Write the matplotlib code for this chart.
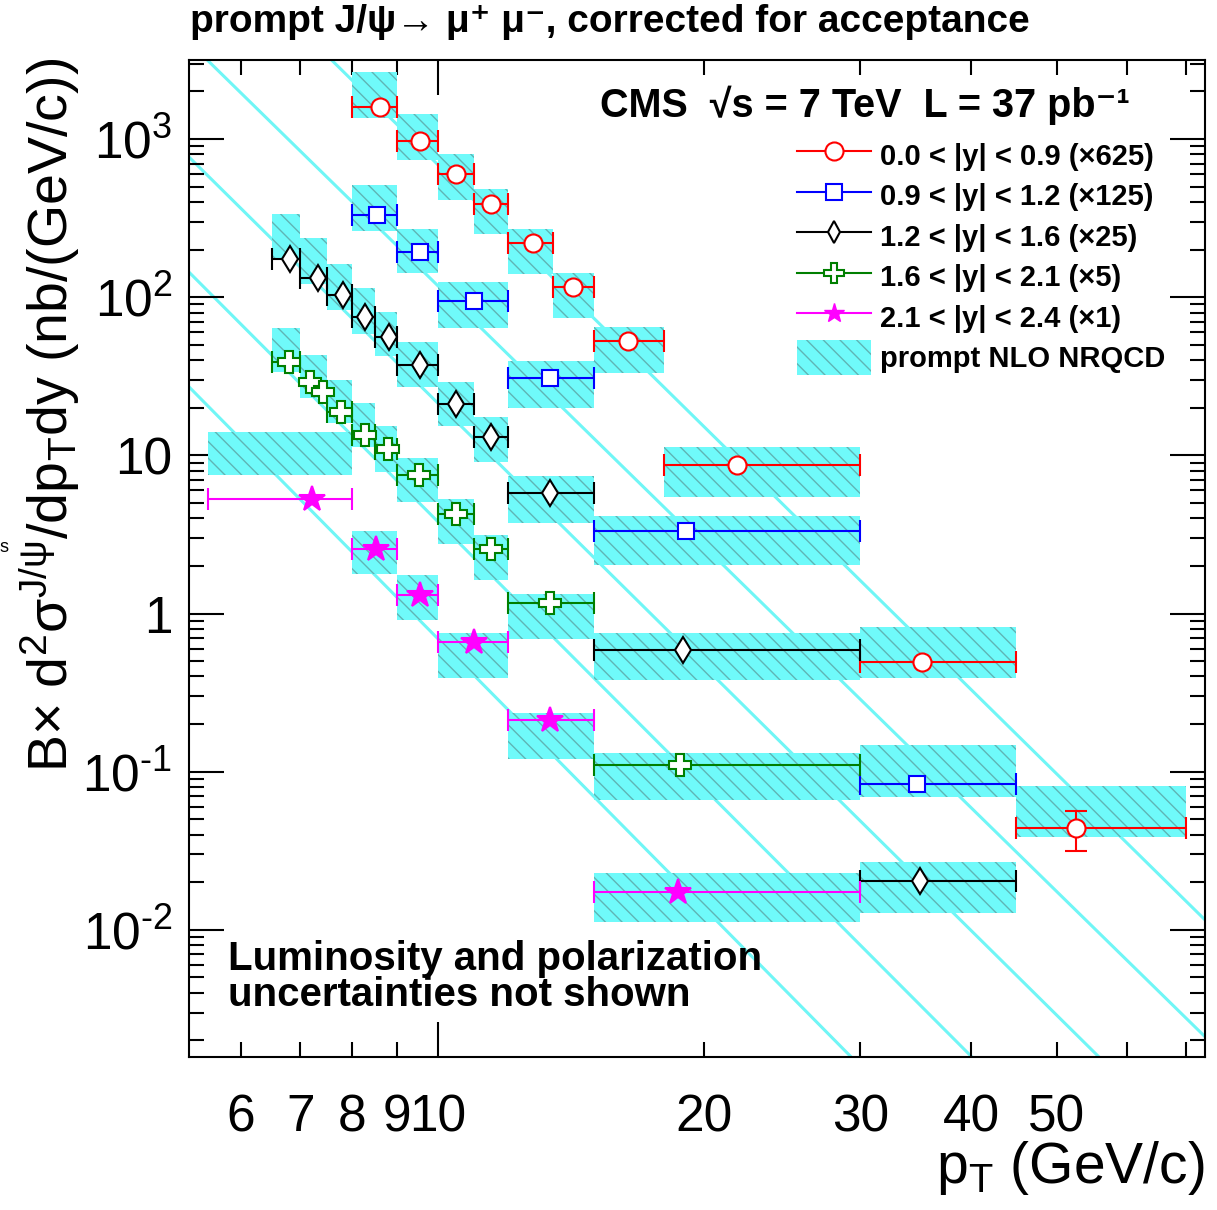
import matplotlib
matplotlib.use('Agg')
from matplotlib import pyplot as plt
from matplotlib.ticker import FixedLocator, FixedFormatter, NullFormatter
from matplotlib.lines import Line2D
from matplotlib.patches import Patch

# ---- data (pT in GeV/c, cross section in nb/(GeV/c)) ----
red_xlo = [8, 9, 10, 11, 12, 13.5, 15, 18, 30, 45]
red_xhi = [9, 10, 11, 12, 13.5, 15, 18, 30, 45, 70]
red_x = [8.6, 9.54, 10.5, 11.5, 12.8, 14.2, 16.4, 21.8, 35.2, 52.6]
red_y = [1592, 971, 601, 388, 220, 116, 52.9, 8.7, 0.494, 0.0441]
red_yerr_lo = [0, 0, 0, 0, 0, 0, 0, 0, 0, 0.0125]
red_yerr_hi = [0, 0, 0, 0, 0, 0, 0, 0, 0, 0.0124]
red_band_lo = [1358, 737, 411, 251, 140, 74, 33.2, 5.46, 0.392, 0.0387]
red_band_hi = [2652, 1439, 804, 483, 270, 142, 64.9, 11.3, 0.822, 0.0813]

blue_xlo = [8, 9, 10, 12, 15, 30]
blue_xhi = [9, 10, 12, 15, 30, 45]
blue_x = [8.55, 9.54, 10.98, 13.4, 19.05, 34.8]
blue_y = [331, 193, 94.6, 30.9, 3.33, 0.0838]
blue_band_lo = [262, 142, 63.8, 19.9, 2.03, 0.0693]
blue_band_hi = [512, 270, 125, 39.5, 4.14, 0.1476]

black_xlo = [6.5, 7, 7.5, 8, 8.5, 9, 10, 11, 12, 15, 30]
black_xhi = [7, 7.5, 8, 8.5, 9, 10, 11, 12, 15, 30, 45]
black_x = [6.81, 7.32, 7.81, 8.29, 8.81, 9.54, 10.5, 11.5, 13.4, 18.9, 35.0]
black_y = [174, 132, 103, 75, 56, 37.3, 21.1, 13.1, 5.78, 0.589, 0.0204]
black_band_lo = [172, 121, 83, 58.5, 42.5, 27.0, 15.3, 9.08, 3.74, 0.380, 0.0128]
black_band_hi = [336, 237, 162, 114, 80.5, 52.1, 29.1, 17.5, 7.41, 0.753, 0.0269]

green_xlo = [6.5, 7.17, 7.42, 7.5, 8, 8.5, 9, 10, 11, 12, 15]
green_xhi = [7, 7.17, 7.42, 8, 8.5, 9, 10, 11, 12, 15, 30]
green_x = [6.79, 7.17, 7.42, 7.77, 8.27, 8.78, 9.52, 10.5, 11.5, 13.4, 18.8]
green_y = [38.9, 29.1, 25.2, 18.8, 13.4, 11.0, 7.51, 4.26, 2.56, 1.17, 0.110]
green_band_xlo = [6.5, 7, 7.5, 8, 8.5, 9, 10, 11, 12, 15]
green_band_xhi = [7, 7.5, 8, 8.5, 9, 10, 11, 12, 15, 30]
green_band_lo = [33.7, 23.1, 16.0, 11.3, 7.86, 5.07, 2.75, 1.63, 0.690, 0.0663]
green_band_hi = [63.9, 43.2, 30.0, 21.4, 15.3, 9.64, 5.30, 3.14, 1.33, 0.1315]

mag_xlo = [5.5, 8, 9, 10, 12, 15]
mag_xhi = [8, 9, 10, 12, 15, 30]
mag_x = [7.21, 8.53, 9.54, 10.98, 13.4, 18.7]
mag_y = [5.30, 2.56, 1.31, 0.661, 0.212, 0.0174]
mag_band_lo = [7.52, 1.78, 0.910, 0.392, 0.120, 0.01125]
mag_band_hi = [14.1, 3.33, 1.75, 0.753, 0.2355, 0.0229]

# the long cyan diagonal lines (end points read at the frame)
diag_x = [[5.24, 73.5], [7.59, 73.5], [5.24, 55.8], [5.24, 40.1], [5.24, 29.3]]
diag_y = [[4100, 0.00211], [3160, 0.01156], [769, 0.00157], [144, 0.00157], [27.1, 0.00157]]

labels = ['0.0 < |y| < 0.9 (\u00d7625)', '0.9 < |y| < 1.2 (\u00d7125)',
          '1.2 < |y| < 1.6 (\u00d725)', '1.6 < |y| < 2.1 (\u00d75)',
          '2.1 < |y| < 2.4 (\u00d71)', 'prompt NLO NRQCD']

plt.rcParams['font.family'] = ['Liberation Sans', 'DejaVu Sans']
plt.rcParams['mathtext.fontset'] = 'custom'
plt.rcParams['mathtext.rm'] = 'Liberation Sans'
plt.rcParams['mathtext.it'] = 'Liberation Sans:italic'
plt.rcParams['mathtext.bf'] = 'Liberation Sans:bold'
plt.rcParams['hatch.linewidth'] = 1.0

cyan = '#6ffafa'
hatchc = '#5fb4b4'

fig = plt.figure(figsize=(12.17, 12.10), dpi=100)
ax = fig.add_axes([189/1217, 1-1057/1210, (1205-189)/1217, (1057-60)/1210])
ax.set_xscale('log')
ax.set_yscale('log')

for lx, ly in zip(diag_x, diag_y):
    ax.plot(lx, ly, color='#70f6f6', lw=2.2, zorder=1)

def bands(xlo, xhi, lo, hi):
    for a, b, l, h in zip(xlo, xhi, lo, hi):
        ax.fill_between([a, b], [l, l], [h, h], facecolor=cyan, edgecolor=hatchc,
                        hatch='\\\\', linewidth=0, zorder=2)

bands(red_xlo, red_xhi, red_band_lo, red_band_hi)
bands(blue_xlo, blue_xhi, blue_band_lo, blue_band_hi)
bands(black_xlo, black_xhi, black_band_lo, black_band_hi)
bands(green_band_xlo, green_band_xhi, green_band_lo, green_band_hi)
bands(mag_xlo, mag_xhi, mag_band_lo, mag_band_hi)

def points(x, y, xlo, xhi, color, marker, ms, mfc='white', yerr=None):
    xerr = [[xi - a for xi, a in zip(x, xlo)], [b - xi for xi, b in zip(x, xhi)]]
    ax.errorbar(x, y, xerr=xerr, yerr=yerr, fmt=marker, color=color, mec=color,
                mfc=mfc, ms=ms, mew=1.5, elinewidth=1.5, capsize=8, capthick=1.5,
                zorder=3)

points(red_x, red_y, red_xlo, red_xhi, '#ff0000', 'o', 13, yerr=[red_yerr_lo, red_yerr_hi])
points(blue_x, blue_y, blue_xlo, blue_xhi, '#0000ff', 's', 12)
points(black_x, black_y, black_xlo, black_xhi, 'black', 'd', 13)
points(green_x, green_y, green_xlo, green_xhi, '#007f00', 'P', 16)
points(mag_x, mag_y, mag_xlo, mag_xhi, '#ff00ff', '*', 19, mfc='#ff00ff')

ax.set_xlim(5.24, 73.5)
ax.set_ylim(1.57e-3, 3160)

# ticks
ax.xaxis.set_major_locator(FixedLocator([10]))
ax.xaxis.set_major_formatter(FixedFormatter(['10']))
ax.xaxis.set_minor_locator(FixedLocator([6, 7, 8, 9, 20, 30, 40, 50, 60, 70]))
ax.xaxis.set_minor_formatter(FixedFormatter(['6', '7', '8', '9', '20', '30', '40', '50', '', '']))
yt = [1e-2, 1e-1, 1, 10, 100, 1000]
ax.yaxis.set_major_locator(FixedLocator(yt))
ax.yaxis.set_major_formatter(FixedFormatter([r'$\mathregular{10^{\text{-}2}}$', r'$\mathregular{10^{\text{-}1}}$',
                                              '1', '10', r'$\mathregular{10^{2}}$',
                                              r'$\mathregular{10^{3}}$']))
ymin = [m * 10.0**e for e in range(-3, 4) for m in range(2, 10)]
ax.yaxis.set_minor_locator(FixedLocator(ymin))
ax.yaxis.set_minor_formatter(NullFormatter())
ax.tick_params(which='both', direction='in', top=True, right=True, width=1.5)
ax.tick_params(which='major', length=25)
ax.tick_params(which='minor', length=11)
ax.tick_params(axis='x', which='both', labelsize=37, pad=26)
ax.tick_params(axis='y', which='both', labelsize=37, pad=12)
for s in ax.spines.values():
    s.set_linewidth(1.5)

# legend
handles = [Line2D([], [], color='#ff0000', marker='o', mfc='white', ms=13, mew=1.5, lw=1.5),
           Line2D([], [], color='#0000ff', marker='s', mfc='white', ms=12, mew=1.5, lw=1.5),
           Line2D([], [], color='black', marker='d', mfc='white', ms=11, mew=1.5, lw=1.5),
           Line2D([], [], color='#007f00', marker='P', mfc='white', ms=14, mew=1.5, lw=1.5),
           Line2D([], [], color='#ff00ff', marker='*', ms=15, lw=1.5),
           Patch(facecolor=cyan, edgecolor=hatchc, hatch='\\\\', linewidth=0)]
ax.legend(handles, labels, loc='upper left', bbox_to_anchor=((797-189)/1016, (1057-138)/997),
          frameon=False, borderpad=0, borderaxespad=0, handlelength=2.55, handleheight=1.45,
          handletextpad=0.3, labelspacing=0.2, prop={'size': 21, 'weight': 'bold'})

# texts
fig.text(190/1217, 1-22/1210, 'prompt J/\u03c8\u2192 \u03bc\u207a \u03bc\u207b, corrected for acceptance',
         ha='left', va='center', fontsize=28, fontweight='bold')
fig.text(1130/1217, 1-105/1210, 'CMS  \u221as = 7 TeV  L = 37 pb\u207b\u00b9',
         ha='right', va='center', fontsize=28.5, fontweight='bold')
fig.text(228/1217, 1-977/1210, 'Luminosity and polarization\nuncertainties not shown',
         ha='left', va='center', fontsize=29, fontweight='bold', linespacing=0.92)
fig.text(1205/1217, 1-1168/1210, r'$\mathregular{p_{T}}$ (GeV/c)',
         ha='right', va='center', fontsize=41)
fig.text(50/1217, 1-58/1210,
         r'B$\mathregular{\times}$ d$\mathregular{^{2}\sigma^{J/\psi}}$/dp$\mathregular{_{T}}$dy (nb/(GeV/c))',
         rotation=90, ha='center', va='top', fontsize=40)
fig.text(0, 1-548/1210, 's', ha='left', va='center', fontsize=13)

fig.savefig('out.png', dpi=100)
